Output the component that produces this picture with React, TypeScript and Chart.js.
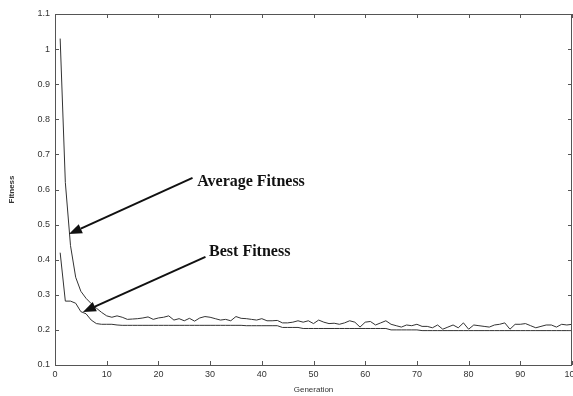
import React, { useEffect, useRef } from "react";
import { Chart, registerables } from "chart.js";

Chart.register(...registerables);

const generations: number[] = Array.from({ length: 100 }, (_, i) => i + 1);

const averageFitness: number[] = [
  1.03, 0.62, 0.44, 0.35, 0.31, 0.29, 0.275, 0.262, 0.25, 0.24,
  0.236, 0.24, 0.236, 0.23, 0.231, 0.232, 0.234, 0.237, 0.23, 0.234,
  0.236, 0.24, 0.228, 0.232, 0.226, 0.233, 0.225, 0.234, 0.238, 0.236,
  0.232, 0.228, 0.23, 0.226, 0.238, 0.233, 0.232, 0.23, 0.228, 0.232,
  0.226, 0.226, 0.227, 0.22, 0.22, 0.222, 0.226, 0.222, 0.226, 0.218,
  0.228, 0.222, 0.218, 0.219, 0.216, 0.22, 0.226, 0.222, 0.208, 0.222,
  0.224, 0.214, 0.22, 0.226, 0.216, 0.212, 0.208, 0.214, 0.212, 0.216,
  0.21, 0.21, 0.206, 0.214, 0.202, 0.208, 0.214, 0.206, 0.22, 0.202,
  0.214, 0.212, 0.21, 0.208, 0.214, 0.216, 0.22, 0.202, 0.216, 0.216,
  0.218, 0.212, 0.206, 0.21, 0.214, 0.214, 0.208, 0.216, 0.214, 0.216,
];

const bestFitness: number[] = [
  0.42, 0.282, 0.282, 0.276, 0.252, 0.246, 0.228, 0.218, 0.216, 0.216,
  0.216, 0.214, 0.213, 0.213, 0.213, 0.213, 0.213, 0.213, 0.213, 0.213,
  0.213, 0.213, 0.213, 0.213, 0.213, 0.213, 0.213, 0.213, 0.213, 0.213,
  0.213, 0.213, 0.213, 0.213, 0.213, 0.213, 0.212, 0.212, 0.212, 0.212,
  0.212, 0.212, 0.212, 0.207, 0.207, 0.207, 0.207, 0.204, 0.204, 0.204,
  0.204, 0.204, 0.204, 0.204, 0.204, 0.204, 0.204, 0.204, 0.204, 0.204,
  0.204, 0.204, 0.204, 0.204, 0.2, 0.2, 0.2, 0.2, 0.2, 0.2,
  0.198, 0.198, 0.198, 0.198, 0.198, 0.198, 0.198, 0.198, 0.198, 0.198,
  0.198, 0.198, 0.198, 0.198, 0.198, 0.198, 0.198, 0.198, 0.198, 0.198,
  0.198, 0.198, 0.198, 0.198, 0.198, 0.198, 0.198, 0.198, 0.198, 0.198,
];

const xTickValues: number[] = [0, 10, 20, 30, 40, 50, 60, 70, 80, 90, 100];
const yTickValues: number[] = [0.1, 0.2, 0.3, 0.4, 0.5, 0.6, 0.7, 0.8, 0.9, 1, 1.1];
const yTickLabels: string[] = ["0.1", "0.2", "0.3", "0.4", "0.5", "0.6", "0.7", "0.8", "0.9", "1", "1.1"];

// annotations: label, text anchor (gen, value), arrow start, arrow tip
const annotationLabels: string[] = ["Average Fitness", "Best Fitness"];
const annotationTextAt: [number, number][] = [[27.5, 0.621], [29.8, 0.422]];
const annotationArrowFrom: [number, number][] = [[26.6, 0.633], [29.1, 0.408]];
const annotationArrowTo: [number, number][] = [[2.7, 0.473], [5.4, 0.251]];

const AXIS = "#555555";
const LINE = "#333333";

const boxTicksPlugin = {
  id: "boxTicks",
  afterDraw(chart: any) {
    const { ctx, chartArea: a, scales } = chart;
    const xs = scales.x, ys = scales.y;
    ctx.save();
    ctx.strokeStyle = AXIS;
    ctx.lineWidth = 1;
    ctx.strokeRect(a.left + 0.5, a.top + 0.5, a.right - a.left - 1, a.bottom - a.top);
    const L = 4;
    ctx.beginPath();
    xTickValues.forEach((v) => {
      const px = Math.round(xs.getPixelForValue(v)) + 0.5;
      ctx.moveTo(px, a.bottom);
      ctx.lineTo(px, a.bottom - L);
      ctx.moveTo(px, a.top);
      ctx.lineTo(px, a.top + L);
    });
    yTickValues.forEach((v) => {
      const py = Math.round(ys.getPixelForValue(v)) + 0.5;
      ctx.moveTo(a.left, py);
      ctx.lineTo(a.left + L, py);
      ctx.moveTo(a.right, py);
      ctx.lineTo(a.right - L, py);
    });
    ctx.stroke();

    // annotations
    ctx.strokeStyle = "#111111";
    ctx.fillStyle = "#111111";
    ctx.lineWidth = 2;
    annotationLabels.forEach((label, i) => {
      const fx = xs.getPixelForValue(annotationArrowFrom[i][0]);
      const fy = ys.getPixelForValue(annotationArrowFrom[i][1]);
      const tx = xs.getPixelForValue(annotationArrowTo[i][0]);
      const ty = ys.getPixelForValue(annotationArrowTo[i][1]);
      const ang = Math.atan2(ty - fy, tx - fx);
      const head = 13;
      const bx = tx - head * Math.cos(ang);
      const by = ty - head * Math.sin(ang);
      ctx.beginPath();
      ctx.moveTo(fx, fy);
      ctx.lineTo(bx, by);
      ctx.stroke();
      ctx.beginPath();
      ctx.moveTo(tx, ty);
      ctx.lineTo(bx + 5 * Math.sin(ang), by - 5 * Math.cos(ang));
      ctx.lineTo(bx - 5 * Math.sin(ang), by + 5 * Math.cos(ang));
      ctx.closePath();
      ctx.fill();
      ctx.font = "bold 16px 'Liberation Serif', 'Times New Roman', serif";
      ctx.textAlign = "left";
      ctx.textBaseline = "middle";
      ctx.fillText(label, xs.getPixelForValue(annotationTextAt[i][0]), ys.getPixelForValue(annotationTextAt[i][1]));
    });
    ctx.restore();
  },
};

export default function App() {
  const ref = useRef<HTMLCanvasElement | null>(null);
  useEffect(() => {
    if (!ref.current) return;
    const chart = new Chart(ref.current, {
      type: "line",
      data: {
        datasets: [
          {
            label: "Average Fitness",
            data: generations.map((g, i) => ({ x: g, y: averageFitness[i] })),
            borderColor: LINE,
            borderWidth: 1,
            pointRadius: 0,
            tension: 0,
          },
          {
            label: "Best Fitness",
            data: generations.map((g, i) => ({ x: g, y: bestFitness[i] })),
            borderColor: LINE,
            borderWidth: 1,
            pointRadius: 0,
            tension: 0,
          },
        ],
      },
      options: {
        animation: false,
        responsive: false,
        maintainAspectRatio: false,
        layout: { padding: { top: 14, right: 1, left: 0, bottom: 0 } },
        plugins: { legend: { display: false }, tooltip: { enabled: false } },
        scales: {
          x: {
            type: "linear",
            min: 0,
            max: 100,
            afterBuildTicks: (s: any) => {
              s.ticks = xTickValues.map((v) => ({ value: v }));
            },
            afterFit: (s: any) => {
              s.height = 31;
              s.paddingLeft = 0;
              s.paddingRight = 0;
            },
            grid: { display: false, drawTicks: false },
            border: { display: false },
            ticks: {
              padding: 4,
              color: "#333333",
              font: { family: "'Liberation Sans', Arial, sans-serif", size: 9 },
              maxRotation: 0,
              autoSkip: false,
              callback: (v: any) => String(v),
            },
            title: {
              display: true,
              text: "Generation",
              color: "#333333",
              font: { family: "'Liberation Sans', Arial, sans-serif", size: 8 },
              padding: { top: 0, bottom: 1 },
            },
          },
          y: {
            type: "linear",
            min: 0.1,
            max: 1.1,
            afterBuildTicks: (s: any) => {
              s.ticks = yTickValues.map((v) => ({ value: v }));
            },
            afterFit: (s: any) => {
              s.width = 55;
              s.paddingTop = 0;
              s.paddingBottom = 0;
            },
            grid: { display: false, drawTicks: false },
            border: { display: false },
            ticks: {
              padding: 5,
              color: "#333333",
              font: { family: "'Liberation Sans', Arial, sans-serif", size: 9 },
              autoSkip: false,
              callback: (v: any) => {
                const idx = yTickValues.findIndex((t) => Math.abs(t - Number(v)) < 1e-6);
                return idx >= 0 ? yTickLabels[idx] : "";
              },
            },
            title: {
              display: true,
              text: "Fitness",
              color: "#333333",
              font: { family: "'Liberation Sans', Arial, sans-serif", size: 8, weight: "bold" },
              padding: { top: 7, bottom: 0 },
            },
          },
        },
      },
      plugins: [boxTicksPlugin],
    } as any);
    return () => chart.destroy();
  }, []);
  return (
    <div style={{ position: "fixed", left: 0, top: 0, width: 573, height: 396, background: "#fff" }}>
      <canvas ref={ref} width={573} height={396} style={{ display: "block" }} />
    </div>
  );
}
